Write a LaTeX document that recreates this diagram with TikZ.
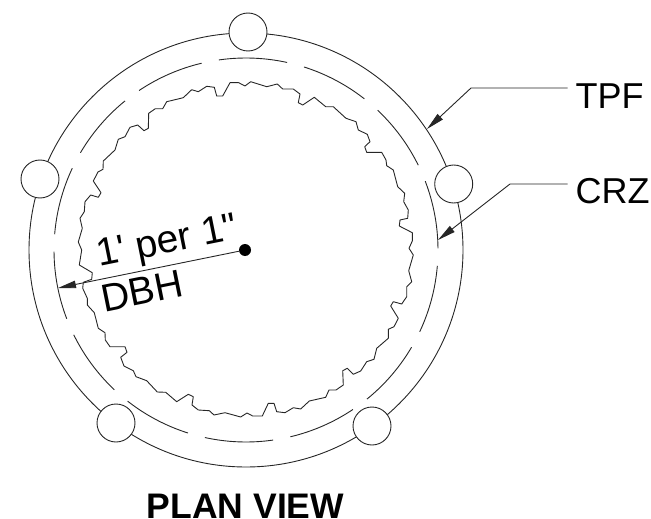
\documentclass[tikz,border=0pt]{standalone}
\usepackage{fontspec}
\setmainfont{Liberation Sans}[Ligatures=TeXOff]
\usetikzlibrary{arrows.meta}
\tikzstyle{thinline} = [draw=black!85, line width=0.9pt, line join=round]
\tikzstyle{post} = [thinline, fill=white, circle, minimum size=38pt, inner sep=0]
\tikzstyle{leader} = [thinline, -{Triangle[length=18pt,width=7.5pt]}]
\tikzstyle{calltext} = [inner sep=0, font=\fontsize{36}{40}\selectfont]
\tikzstyle{radtext} = [inner sep=0, rotate=11.4, anchor=base west, font=\fontsize{39}{44}\selectfont]

\begin{document}
\begin{tikzpicture}[x=1pt,y=-1pt]
    \useasboundingbox (0,0) rectangle (651,519);
    \coordinate (ringc) at (246,250);

    \draw [thinline] (ringc) circle [radius=217pt];
    \foreach \k in {0,...,13} {
        \pgfmathsetmacro{\a}{0.5+\k*25.714}
        \draw [thinline] (ringc) ++(\a:192pt) arc [start angle=\a, delta angle=20.5, radius=192pt];
    }

    \draw [thinline] plot coordinates {
        (250.7,81.7) (245,86) (238.7,82.7) (230,82.7) (222.7,96) (216.7,96) (214.3,87.3)
        (206.7,86.3) (198.3,91.7) (191.7,89.7) (183.3,97.7) (166.7,101.7) (162.7,108.7)
        (155.3,108.7) (148.7,113.3) (148.3,128.3) (144,130.7) (137.7,125) (130,127.3)
        (125,136.7) (118.3,139.3) (115,150) (103.3,161) (103,169.3) (98,172) (93.3,181)
        (101,192.7) (98.3,197.3) (90.7,195) (85,201.7) (84.3,211.7) (80,218.3) (82.3,228.3)
        (78.3,242) (81.7,250) (79.3,265) (92.3,272.7) (91.7,279.3) (83.3,282.3) (82.7,288.3)
        (87.3,298.3) (87.3,305) (94.3,312.7) (98.3,328.3) (105,332.7) (105.3,340) (110,346.7)
        (125,346.7) (127,352.3) (120.7,357.3) (124,366) (133.3,370.7) (136,376.7) (146.7,380.7)
        (157.3,392) (165.7,392.3) (176.7,401.7) (188.3,394.3) (193.3,396.7) (192,405)
        (198.3,410) (209.3,410.7) (214,415) (225,412.7) (240.7,417) (247,413) (252.7,416)
        (262.3,416) (268.3,403.3) (274,403.3) (276.7,411.7) (285,412.7) (293.3,407.7)
        (300.7,409) (309.3,401) (325.7,397.3) (329,390) (336,390) (343.3,385) (342.7,370.7)
        (347.3,368.3) (353.3,374.3) (360.7,371) (366.7,361.7) (374,359.3) (376.7,348.3)
        (388.3,338.3) (388.3,329.3) (394,326.7) (398.3,318.3) (390.7,306) (393.3,301.7)
        (401.7,304) (406.7,296.7) (406.7,286.7) (411.7,281.7) (408.7,270.7) (413.3,255)
        (409,248.3) (412.3,241) (412.3,232.7) (399.3,226) (400,220) (407.7,218.3) (408.3,210)
        (403.7,201.7) (404.7,193.3) (397.7,186.7) (393.3,170) (386.7,165.7) (386,160)
        (381.7,152.3) (366.7,152.3) (364.7,146.7) (370,141.7) (367.3,134.3) (358.3,130)
        (356,121.7) (346,118.3) (333.3,106.7) (325.7,106.7) (314.3,97.3) (302.7,105)
        (298.3,102.7) (300,94) (293.3,89) (282.7,89) (277.3,84) (266.7,86.7) (250.7,81.7)
    };

    \node [post] (posttop) at (248,32) {};
    \node [post] (postleft) at (40,179) {};
    \node [post] (postright) at (453.7,184) {};
    \node [post] (postbl) at (116,423) {};
    \node [post] (postbr) at (372,426) {};

    \node [fill=black, circle, minimum size=12pt, inner sep=0] (tree) at (245,250) {};
    \coordinate (radtip) at (58,288);
    \draw [leader] (tree) -- (radtip);
    \node [radtext] (perinch) at (99,267) {1' per 1"};
    \node [radtext] (dbh) at (104,312.3) {DBH};

    \node [calltext, anchor=base west] (tpf) at (575.5,108) {TPF};
    \coordinate (tpfbend) at (471,88);
    \coordinate (tpftip) at (427,129);
    \draw [leader, shorten <=8pt] (tpfbend -| tpf.west) -- (tpfbend) -- (tpftip);

    \node [calltext, anchor=base west] (crz) at (575.5,203) {CRZ};
    \coordinate (crzbend) at (510,184);
    \coordinate (crztip) at (438,240);
    \draw [leader, shorten <=8pt] (crzbend -| crz.west) -- (crzbend) -- (crztip);

    \node [calltext, font=\bfseries\fontsize{35.5}{40}\selectfont, anchor=base] (planview) at (245.5,518) {PLAN VIEW};
\end{tikzpicture}
\end{document}
